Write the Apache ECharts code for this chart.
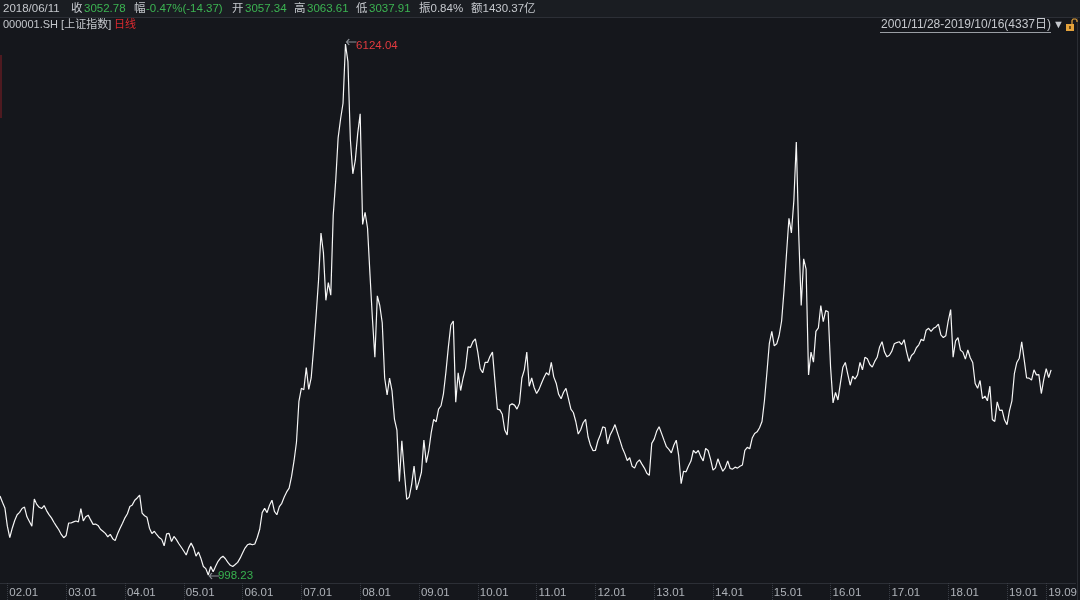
<!DOCTYPE html>
<html><head><meta charset="utf-8">
<script src="https://cdn.jsdelivr.net/npm/echarts@6/dist/echarts.min.js"></script>
<style>html,body{margin:0;padding:0;background:#15171c;}#c{width:1080px;height:600px;}</style>
</head><body><div id="c"></div>
<script>
// ---- data (half-month samples) ----
const startLabel = '2001-11-28';
const startValue = 1760;
const v2001 = [1700, 1646];
const v2002 = [1470,1360, 1450,1524, 1580,1603, 1640,1654, 1560,1515, 1470,1732, 1680,1652, 1640,1669, 1620,1581, 1550,1507, 1470,1435, 1390,1358];
const v2003 = [1380,1500, 1500,1511, 1520,1511, 1640,1521, 1560,1576, 1530,1487, 1490,1477, 1440,1421, 1400,1367, 1390,1349, 1330,1397, 1450,1497];
const v2004 = [1550,1590, 1660,1675, 1720,1742, 1770,1595, 1570,1555, 1450,1399, 1420,1387, 1360,1342, 1280,1396, 1400,1321, 1370,1340, 1300,1266];
const v2005 = [1230,1191, 1260,1306, 1260,1181, 1220,1159, 1080,1060, 998.23,1080, 1030,1083, 1130,1162, 1180,1155, 1120,1092, 1080,1099, 1120,1161];
const v2006 = [1210,1258, 1290,1299, 1290,1298, 1360,1440, 1600,1641, 1600,1672, 1720,1612, 1580,1658, 1690,1752, 1800,1837, 1950,2099, 2280,2675];
const v2007 = [2800,2786, 3000,2790, 2900,3183, 3500,3841, 4300,4109, 3650,3820, 3700,4471, 4800,5218, 5400,5552, 6124.04,5954, 5200,4871, 5000,5261];
const v2008 = [5450,4383, 4500,4348, 3900,3472, 3100,3693, 3600,3433, 2900,2736, 2900,2775, 2500,2397, 1900,2293, 2000,1728, 1750,1871, 2050,1820];
const v2009 = [1900,1990, 2300,2082, 2200,2373, 2500,2477, 2600,2632, 2750,2959, 3200,3412, 3450,2667, 2950,2779, 2900,2996, 3200,3195, 3250,3277];
const v2010 = [3150,2989, 2950,3051, 3050,3109, 3150,2870, 2600,2592, 2550,2398, 2350,2637, 2650,2638, 2600,2655, 2900,2979, 3150,2820, 2900,2808];
const v2011 = [2750,2790, 2850,2905, 2950,2928, 3050,2911, 2850,2743, 2700,2762, 2800,2701, 2600,2567, 2480,2359, 2400,2468, 2500,2333, 2250,2199];
const v2012 = [2200,2292, 2350,2428, 2420,2263, 2350,2396, 2450,2373, 2300,2225, 2170,2103, 2130,2047, 2030,2086, 2110,2069, 2030,1980, 1960,2269];
const v2013 = [2310,2385, 2430,2365, 2300,2237, 2210,2178, 2250,2300, 2150,1880, 2000,1994, 2050,2098, 2200,2175, 2200,2141, 2100,2220, 2200,2116];
const v2014 = [2010,2033, 2120,2056, 2000,2033, 2100,2026, 2020,2039, 2030,2048, 2060,2201, 2230,2217, 2320,2364, 2380,2420, 2480,2683, 2950,3235];
const v2015 = [3350,3210, 3230,3310, 3450,3748, 4100,4442, 4300,4612, 5178,4277, 3600,4050, 3950,2930, 3150,3053, 3350,3383, 3600,3445, 3550,3539];
const v2016 = [3000,2660, 2760,2688, 2850,3004, 3050,2938, 2830,2917, 2890,2930, 3050,2979, 3100,3085, 3030,3005, 3060,3100, 3200,3250, 3150,3104];
const v2017 = [3120,3159, 3230,3242, 3250,3223, 3270,3155, 3060,3117, 3140,3192, 3220,3273, 3260,3361, 3380,3349, 3380,3393, 3420,3317, 3290,3307];
const v2018 = [3450,3560, 3100,3259, 3290,3169, 3150,3082, 3170,3095, 3050,2847, 2800,2876, 2700,2725, 2680,2821, 2500,2480, 2670,2588, 2590,2494];
const v2019 = [2450,2585, 2680,2941, 3050,3091, 3250,3078, 2900,2899, 2880,2979, 2930,2933, 2750,2886, 2990,2905, 2978];

const tickCats = ['2002-01-H1','2003-01-H1','2004-01-H1','2005-01-H1','2006-01-H1','2007-01-H1','2008-01-H1','2009-01-H1','2010-01-H1','2011-01-H1','2012-01-H1','2013-01-H1','2014-01-H1','2015-01-H1','2016-01-H1','2017-01-H1','2018-01-H1','2019-01-H1','2019-09-H1'];
const tickLabels = ['02.01','03.01','04.01','05.01','06.01','07.01','08.01','09.01','10.01','11.01','12.01','13.01','14.01','15.01','16.01','17.01','18.01','19.01','19.09'];

// ---- build categories ----
const yearVals = [[2001,v2001],[2002,v2002],[2003,v2003],[2004,v2004],[2005,v2005],[2006,v2006],[2007,v2007],[2008,v2008],[2009,v2009],[2010,v2010],[2011,v2011],[2012,v2012],[2013,v2013],[2014,v2014],[2015,v2015],[2016,v2016],[2017,v2017],[2018,v2018],[2019,v2019]];
const categories = [startLabel];
const values = [startValue];
yearVals.forEach(([yr, arr]) => {
  const firstMonth = yr === 2001 ? 12 : 1;
  arr.forEach((v, i) => {
    const m = firstMonth + Math.floor(i / 2);
    categories.push(yr + '-' + String(m).padStart(2, '0') + '-H' + (i % 2 + 1));
    values.push(v);
  });
});
for (let i = 0; i < 10; i++) categories.push('pad' + i);

const FONT = '"Liberation Sans","Noto Sans CJK SC",sans-serif';
const GREY = '#c5c8cd', GREEN = '#3cb452', RED = '#dc2a30';
const isTick = (idx, val) => tickCats.indexOf(val) >= 0;

function txt(x, y, s, color, size, align) {
  return {type:'text', x:x, y:y, silent:true,
    style:{text:s, fill:color, font: (size||11.5) + 'px ' + FONT, verticalAlign:'middle', align: align || 'left'}};
}

const chart = echarts.init(document.getElementById('c'), null, {renderer:'canvas'});
chart.setOption({
  backgroundColor: '#15171c',
  animation: false,
  grid: {left: 0, right: 3, top: 35, bottom: 17},
  xAxis: {
    type: 'category', data: categories, boundaryGap: false,
    axisLine: {show: true, lineStyle: {color: '#2c2f36', width: 1}},
    axisTick: {show: true, interval: isTick, length: 17, lineStyle: {color: '#3a3e46', type: 'dotted'}},
    axisLabel: {interval: isTick, formatter: v => tickLabels[tickCats.indexOf(v)] || '', align: 'left',
      padding: [0,0,0,2], margin: 4, color: '#aeb2b8', fontSize: 11.5, fontFamily: FONT},
    splitLine: {show: false}
  },
  yAxis: {type: 'value', min: 921, max: 6211, show: false, splitLine: {show: false}},
  series: [{
    type: 'line', data: values, showSymbol: false, symbol: 'none',
    lineStyle: {color: '#f6f6f6', width: 1.2},
    markPoint: {
      symbol: 'path://M3,0 L0,3 L3,6 M0,3 L11,3',
      symbolSize: [10, 6],
      symbolOffset: [6, -2],
      itemStyle: {color: 'rgba(0,0,0,0)', borderColor: '#8c9096', borderWidth: 1},
      label: {show: true, position: 'right', distance: 0, fontSize: 11.5, fontFamily: FONT,
        formatter: p => Number(p.value).toFixed(2)},
      data: [
        {type: 'max', label: {color: '#e23a3f', offset: [-1, 4]}},
        {type: 'min', symbolOffset: [6, 1], label: {color: '#38b24f', offset: [-2, 0]}}
      ]
    }
  }],
  graphic: [
    {type:'rect', silent:true, shape:{x:0,y:0,width:1080,height:17}, style:{fill:'#1a1d22'}},
    {type:'line', silent:true, shape:{x1:0,y1:17.5,x2:1080,y2:17.5}, style:{stroke:'#2c2f36', lineWidth:1}},
    {type:'line', silent:true, shape:{x1:1077.5,y1:18,x2:1077.5,y2:600}, style:{stroke:'#2a2d33', lineWidth:1}},
    {type:'rect', silent:true, shape:{x:0,y:55,width:2,height:63}, style:{fill:'#4e1a20'}},
    txt(3, 8.5, '2018/06/11', GREY),
    txt(71, 8.5, '收', GREY),
    txt(84, 8.5, '3052.78', GREEN),
    txt(134, 8.5, '幅', GREY),
    txt(146, 8.5, '-0.47%(-14.37)', GREEN),
    txt(232, 8.5, '开', GREY),
    txt(245, 8.5, '3057.34', GREEN),
    txt(294, 8.5, '高', GREY),
    txt(307, 8.5, '3063.61', GREEN),
    txt(356, 8.5, '低', GREY),
    txt(369, 8.5, '3037.91', GREEN),
    txt(419, 8.5, '振0.84%', GREY),
    txt(471, 8.5, '额1430.37亿', GREY),
    txt(3, 25, '000001.SH [上证指数]', GREY, 11),
    txt(114, 25, '日线', RED, 11),
    txt(1051, 25, '2001/11/28-2019/10/16(4337日)', GREY, 12, 'right'),
    {type:'line', silent:true, shape:{x1:880,y1:32.5,x2:1051,y2:32.5}, style:{stroke:'#9a9ea4', lineWidth:1}},
    txt(1053, 25, '▼', '#c5c8cd', 11),
    {type:'rect', silent:true, shape:{x:1066,y:24,width:8,height:7}, style:{fill:'#e3a23c'}},
    {type:'rect', silent:true, shape:{x:1069,y:26,width:2,height:3}, style:{fill:'#6b4a14'}},
    {type:'polyline', silent:true, shape:{points:[[1072,24],[1072,20.5],[1073.2,19],[1075.8,19],[1077,20.5],[1077,22]]}, style:{stroke:'#e3a23c', fill:null, lineWidth:1.2}}
  ]
});
</script></body></html>
